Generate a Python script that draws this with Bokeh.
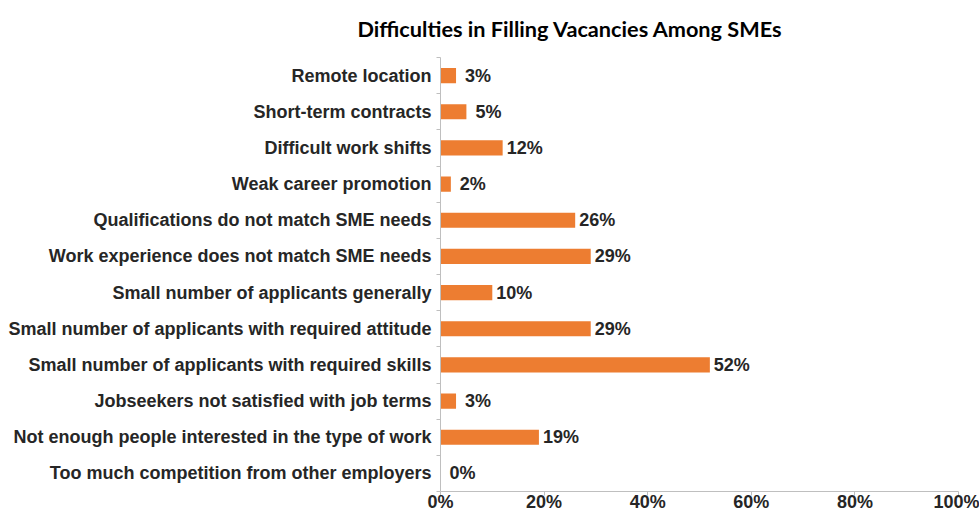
from bokeh.plotting import figure
from bokeh.models import Range1d, FixedTicker, NumeralTickFormatter, ColumnDataSource
from bokeh.core.properties import value
from bokeh.embed import file_html
from bokeh.resources import INLINE

categories = [
    "Remote location",
    "Short-term contracts",
    "Difficult work shifts",
    "Weak career promotion",
    "Qualifications do not match SME needs",
    "Work experience does not match SME needs",
    "Small number of applicants generally",
    "Small number of applicants with required attitude",
    "Small number of applicants with required skills",
    "Jobseekers not satisfied with job terms",
    "Not enough people interested in the type of work",
    "Too much competition from other employers",
]
percents = [3, 5, 12, 2, 26, 29, 10, 29, 52, 3, 19, 0]
x_ticks = [0, 0.2, 0.4, 0.6, 0.8, 1.0]

n = len(categories)
idx = list(range(n))
src = ColumnDataSource(dict(
    y=idx,
    v=[p / 100 for p in percents],
    lab=[f"{p}%" for p in percents],
))

FONT = "Liberation Sans"
TXT = "#262626"

p = figure(width=979, height=514, output_backend="svg", toolbar_location=None,
           x_range=Range1d(0, 1), y_range=Range1d(n - 0.5, -0.5),
           min_border_left=440, min_border_right=21, min_border_top=57,
           min_border_bottom=0)
p.outline_line_color = None
p.grid.visible = False

p.title.text = "Difficulties in Filling Vacancies Among SMEs"
p.title.text_font = "Lato"
p.title.text_font_size = "21.7px"
p.title.text_font_style = "bold"
p.title.text_color = "#000000"
p.title.align = "left"
p.title.vertical_align = "top"
p.title.offset = -83
p.title.standoff = 28

p.hbar(y="y", left=0, right="v", height=0.42, source=src,
       fill_color="#ED7D31", line_color=None)
p.text(x="v", y="y", text="lab", source=src, x_offset=22,
       text_align="center", text_baseline="middle",
       text_font=value(FONT), text_font_size="18px", text_font_style="bold",
       text_color=TXT)

xa = p.xaxis[0]
xa.ticker = FixedTicker(ticks=x_ticks)
xa.formatter = NumeralTickFormatter(format="0%")
xa.axis_line_color = "#BFBFBF"
xa.major_tick_line_color = "#BFBFBF"
xa.major_tick_out = 4
xa.major_tick_in = 0
xa.minor_tick_out = 0
xa.minor_tick_in = 0
xa.major_label_standoff = -4
xa.major_label_text_baseline = "hanging"
xa.major_label_text_font = FONT
xa.major_label_text_font_size = "18px"
xa.major_label_text_font_style = "bold"
xa.major_label_text_color = TXT

ya = p.yaxis[0]
ya.ticker = FixedTicker(ticks=idx, minor_ticks=[i - 0.5 for i in range(n + 1)])
ya.major_label_overrides = {i: c for i, c in enumerate(categories)}
ya.axis_line_color = "#BFBFBF"
ya.major_tick_out = 0
ya.major_tick_in = 0
ya.minor_tick_line_color = "#BFBFBF"
ya.minor_tick_out = 4
ya.minor_tick_in = 0
ya.major_label_standoff = 5
ya.major_label_text_font = FONT
ya.major_label_text_font_size = "18px"
ya.major_label_text_font_style = "bold"
ya.major_label_text_color = TXT

open("out.html", "w").write(file_html(p, INLINE))
